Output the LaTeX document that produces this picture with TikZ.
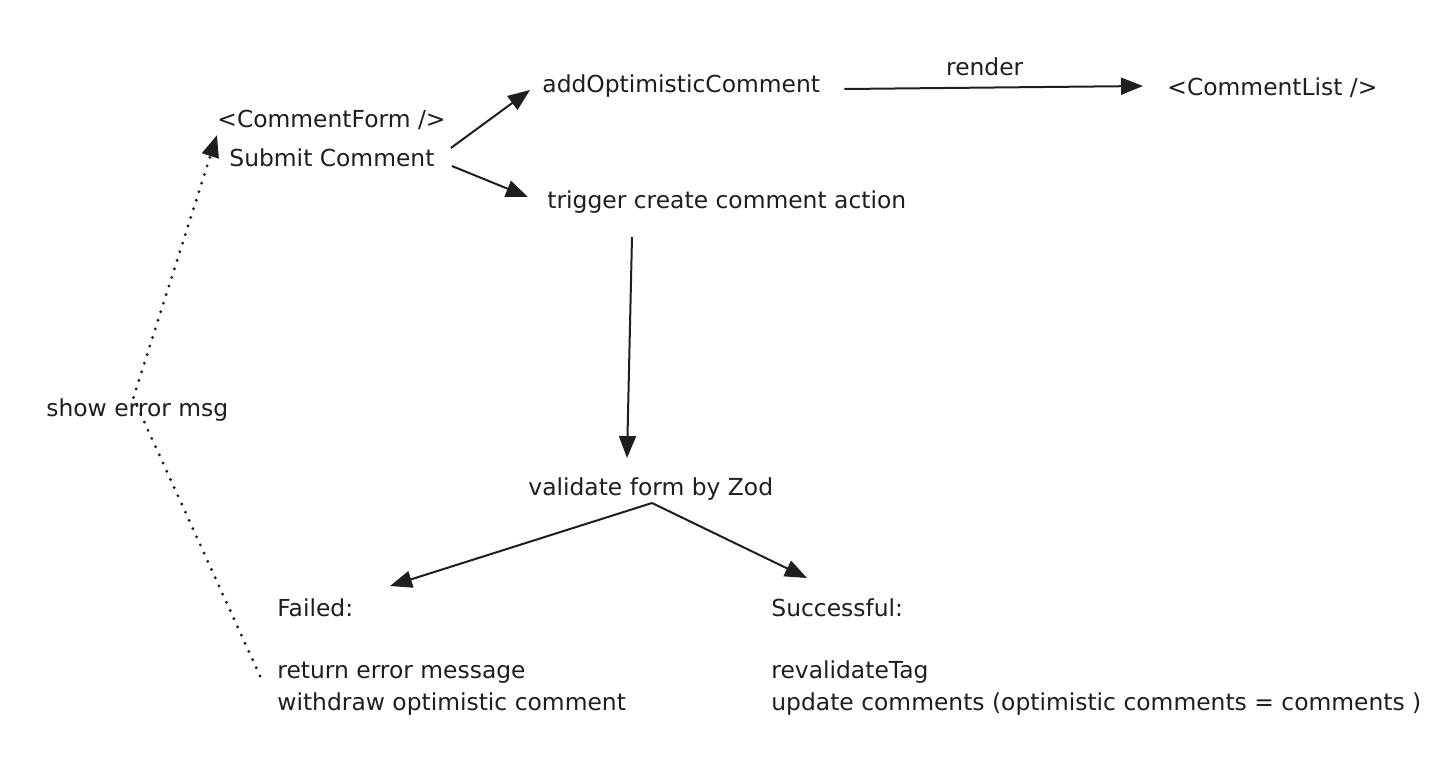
\documentclass[tikz,border=0pt]{standalone}
\usepackage{fontspec}
\setmainfont{DejaVu Sans}
\usetikzlibrary{arrows.meta}
\definecolor{ink}{HTML}{1E1E1E}

\begin{document}
\begin{tikzpicture}[x=0.5pt,y=-0.5pt,
        lbl/.style={inner sep=0pt, anchor=base west, text=ink, align=left,
            font=\fontsize{11.7}{16}\selectfont},
        arr/.style={draw=ink, line width=1pt, -{Triangle[length=11pt,width=8.5pt]}},
        dots/.style={draw=ink, line width=1.6pt, line cap=round,
            dash pattern=on 0pt off 4.5pt, -{Triangle[length=11pt,width=8.5pt]}}]
        \useasboundingbox (0,0) rectangle (1450,762);
        % texts (multi-line nodes sit on the baseline of their last line)
        \node[lbl] (cform) at (217,127) {<CommentForm />};
        \node[lbl] (submit) at (229,166) {Submit Comment};
        \node[lbl] (addopt) at (542,92) {addOptimisticComment};
        \node[lbl] (clist) at (1167,95) {<CommentList />};
        \node[lbl] (trigger) at (547,208) {trigger create comment action};
        \node[lbl] (valid) at (528,495) {validate form by Zod};
        \node[lbl] (fail) at (277,616) {Failed:};
        \node[lbl] (ret) at (277,710) {return error message\\withdraw optimistic comment};
        \node[lbl] (succ) at (771,616) {Successful:};
        \node[lbl] (upd) at (771,710) {revalidateTag\\update comments (optimistic comments = comments )};
        \node[lbl] (errmsg) at (46,416) {show error msg};
        % arrows
        \draw[arr] ([xshift=8pt,yshift=9pt]submit.base east) -- ([xshift=-6pt,yshift=1pt]addopt.base west);
        \draw[arr] ([xshift=8.5pt]submit.base east) -- ([xshift=-9.5pt,yshift=5.5pt]trigger.base west);
        \draw[arr] ([xshift=12pt,yshift=1.5pt]addopt.base east) -- ([xshift=-12pt,yshift=4.5pt]clist.base west)
            node[lbl, anchor=base, pos=0.5, xshift=-4.5pt, yshift=6pt] (rend) {render};
        \draw[arr] ([xshift=42.5pt,yshift=-14.5pt]trigger.base west) -- ([xshift=49.5pt,yshift=18.5pt]valid.base west);
        \draw[arr] ([xshift=62pt,yshift=-4pt]valid.base west) -- ([xshift=56.5pt,yshift=15pt]fail.base west);
        \draw[arr] ([xshift=62pt,yshift=-4pt]valid.base west) -- ([xshift=18pt,yshift=19pt]succ.base west);
        \draw[dots] ([xshift=-8.5pt,yshift=17pt]ret.base west) -- ([xshift=-2pt]errmsg.north) -- ([yshift=-4pt]cform.base west);
\end{tikzpicture}
\end{document}
